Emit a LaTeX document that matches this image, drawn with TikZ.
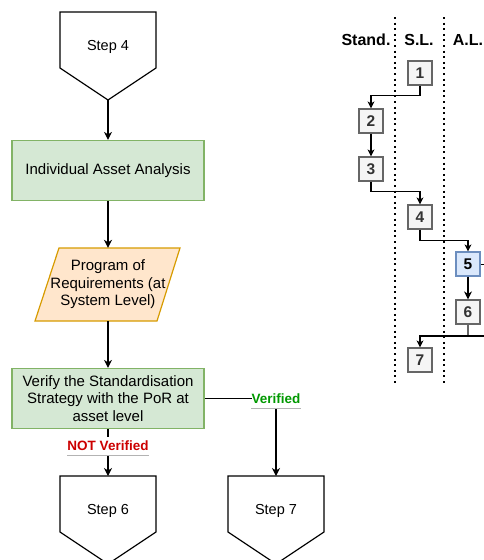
\documentclass[tikz,border=0pt]{standalone}
\usepackage{fontspec}
\setmainfont{Liberation Sans}
\usetikzlibrary{arrows.meta}
\definecolor{greenfill}{HTML}{D5E8D4}
\definecolor{greenstroke}{HTML}{82B366}
\definecolor{orangefill}{HTML}{FFE6CC}
\definecolor{orangestroke}{HTML}{D79B00}
\definecolor{numfill}{HTML}{F5F5F5}
\definecolor{numstroke}{HTML}{666666}
\definecolor{numtext}{HTML}{333333}
\definecolor{bluefill}{HTML}{DAE8FC}
\definecolor{bluestroke}{HTML}{6C8EBF}
\definecolor{okgreen}{HTML}{009900}
\definecolor{nogred}{HTML}{CC0000}
\definecolor{ulgray}{HTML}{B3B3B3}
\begin{document}
\begin{tikzpicture}[x=1pt,y=-1pt,
  every node/.style={font=\fontsize{14.5}{17.5}\selectfont, inner sep=0pt},
  conn/.style={draw=black, line width=1.2pt, -{Stealth[length=8pt,width=8pt,inset=2.5pt]}},
  sconn/.style={draw=black, line width=1.1pt, -{Stealth[length=7pt,width=7pt,inset=2pt]}},
  procbox/.style={draw=greenstroke, fill=greenfill, line width=1.2pt, minimum width=192pt, minimum height=60pt, align=center, font=\fontsize{15}{17.5}\selectfont},
  pentagon/.style={draw=black, line width=1.2pt, fill=white},
  numbox/.style={draw=numstroke, fill=numfill, line width=1.2pt, minimum size=24pt, font=\fontsize{15.5}{17}\selectfont\bfseries, text=numtext},
  bluebox/.style={numbox, draw=bluestroke, fill=bluefill, text=black},
  lanehead/.style={font=\fontsize{16}{18}\selectfont\bfseries},
  lanesep/.style={line width=2pt, dash pattern=on 2pt off 3.6pt},
  edgelabel/.style={fill=white, minimum height=18pt, font=\fontsize{13.5}{16}\selectfont\bfseries},
  underline/.style={draw=ulgray, line width=1pt},
]
\useasboundingbox (0,0) rectangle (484,560);

% ---- main flow ----
\draw[pentagon] (60,12) -- (156,12) -- (156,68) -- (108,100) -- (60,68) -- cycle;
\node (s4) at (108,47) {Step 4};
\coordinate (s4tip) at (108,100);

\node[procbox] (iaa) at (108,170.5) {Individual Asset Analysis};

\filldraw[draw=orangestroke, fill=orangefill, line width=1.2pt]
  (59,248) -- (180,248) -- (157,321) -- (35,321) -- cycle;
\node[minimum width=100pt, minimum height=73pt, align=center, font=\fontsize{15}{17.5}\selectfont] (por) at (108,284.5)
  {Program of\\Requirements (at\\System Level)};

\node[procbox] (ver) at (108,398.5) {Verify the Standardisation\\Strategy with the PoR at\\asset level};

\draw[pentagon] (60,476) -- (156,476) -- (156,532) -- (108,564) -- (60,532) -- cycle;
\node (s6) at (108,511) {Step 6};
\coordinate (s6top) at (108,476);

\draw[pentagon] (228,476) -- (324,476) -- (324,532) -- (276,564) -- (228,532) -- cycle;
\node (s7) at (276,511) {Step 7};
\coordinate (s7top) at (276,476);

\draw[conn] (s4tip) -- (iaa);
\draw[conn] (iaa) -- (por);
\draw[conn] (por) -- (ver);
\draw[conn] (ver) -- (s6top);
\draw[conn] (ver.east) -| (s7top);

\node[edgelabel, text=nogred] (nv) at (108,446) {NOT Verified};
\draw[underline] (nv.south west) -- (nv.south east);
\node[edgelabel, text=okgreen] (okv) at (276,399) {Verified};
\draw[underline] (okv.south west) -- (okv.south east);

% ---- lanes ----
\node[lanehead] (hst) at (366,40) {Stand.};
\node[lanehead] (hsl) at (419,40) {S.L.};
\node[lanehead] (hal) at (468,40) {A.L.};
\draw[lanesep] (395,17) -- (395,385);
\draw[lanesep] (444,17) -- (444,385);

\node[numbox] (b1) at (420,73) {1};
\node[numbox] (b2) at (371,121) {2};
\node[numbox] (b3) at (371,169) {3};
\node[numbox] (b4) at (420,217) {4};
\node[bluebox] (b5) at (468,264) {5};
\node[numbox] (b6) at (468,312) {6};
\node[numbox] (b7) at (420,360) {7};
\coordinate (edge5) at (484,264);
\coordinate (edge6) at (484,336);
\coordinate (j6) at (468,336);

\draw[sconn] (b1.south) -- ++(0,10) -| (b2.north);
\draw[sconn] (b2) -- (b3);
\draw[sconn] (b3.south) -- ++(0,10) -| (b4.north);
\draw[sconn] (b4.south) -- ++(0,11) -| (b5.north);
\draw[sconn, line width=2pt, -{Stealth[length=8pt,width=8pt,inset=2.5pt]}] (b5) -- (b6);
\draw[numstroke, line width=1.2pt] (b6.south) -- (j6);
\draw[sconn] (edge6) -| (b7.north);
\draw[line width=1pt] (b5.east) -- (edge5);
\end{tikzpicture}
\end{document}
